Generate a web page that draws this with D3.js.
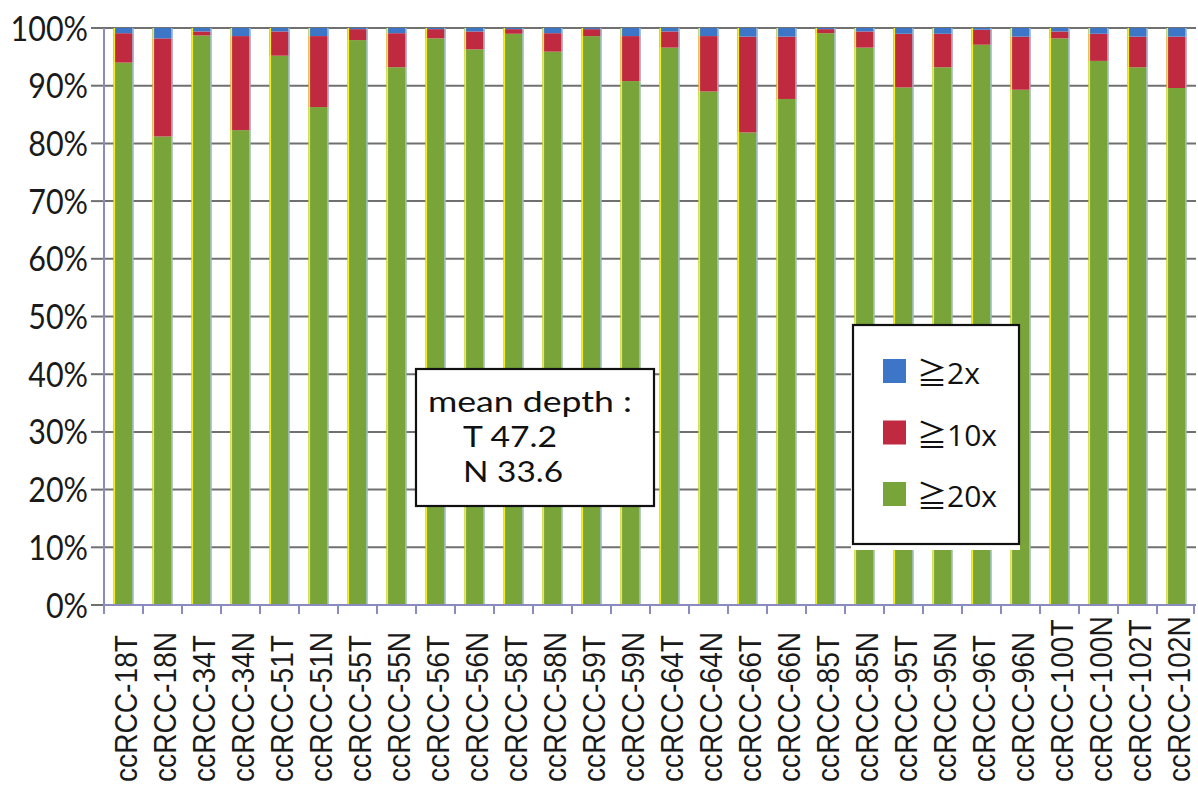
<!DOCTYPE html>
<html>
<head>
<meta charset="utf-8">
<script src="https://cdn.jsdelivr.net/npm/d3@7"></script>
<style>
  html, body { margin: 0; padding: 0; background: #fff; }
  svg { display: block; }
</style>
</head>
<body>
<svg id="chart" width="1198" height="787"></svg>
<script>
// Sequencing coverage per sample: share of target bases reaching each depth.
const samples = [
  "ccRCC-18T", "ccRCC-18N", "ccRCC-34T", "ccRCC-34N", "ccRCC-51T", "ccRCC-51N",
  "ccRCC-55T", "ccRCC-55N", "ccRCC-56T", "ccRCC-56N", "ccRCC-58T", "ccRCC-58N",
  "ccRCC-59T", "ccRCC-59N", "ccRCC-64T", "ccRCC-64N", "ccRCC-66T", "ccRCC-66N",
  "ccRCC-85T", "ccRCC-85N", "ccRCC-95T", "ccRCC-95N", "ccRCC-96T", "ccRCC-96N",
  "ccRCC-100T", "ccRCC-100N", "ccRCC-102T", "ccRCC-102N"
];
// cumulative coverage (%) at >=2x, >=10x, >=20x
const cov2x = [
  100, 100, 100, 100, 100, 100, 100, 100, 100, 100, 100, 100, 100, 100,
  100, 100, 100, 100, 100, 100, 100, 100, 100, 100, 100, 100, 100, 100
];
const cov10x = [
  99.1, 98.2, 99.4, 98.6, 99.4, 98.6, 99.8, 99.1, 99.8, 99.4, 99.8, 99.1, 99.8, 98.6,
  99.4, 98.6, 98.5, 98.5, 99.8, 99.4, 99.0, 99.0, 99.7, 98.5, 99.4, 99.0, 98.5, 98.5
];
const cov20x = [
  94.0, 81.2, 98.7, 82.3, 95.2, 86.3, 97.9, 93.2, 98.2, 96.3, 99.0, 95.9, 98.6, 90.8,
  96.6, 89.0, 81.9, 87.7, 99.1, 96.6, 89.7, 93.2, 97.1, 89.3, 98.2, 94.3, 93.2, 89.6
];
const yTicks = [0, 10, 20, 30, 40, 50, 60, 70, 80, 90, 100];
const seriesKeys = ["ge20", "ge10", "ge2"];
const seriesLabels = { ge2: "≧2x", ge10: "≧10x", ge20: "≧20x" };
const seriesColors = { ge2: "#3d76c6", ge10: "#bf2a40", ge20: "#79a43a" };
const depthNote = ["mean depth :", "T 47.2", "N 33.6"];

// segment table: each stacked piece is the increment over the next-deeper level
const rows = samples.map((s, i) => ({
  sample: s,
  ge20: cov20x[i],
  ge10: cov10x[i] - cov20x[i],
  ge2: cov2x[i] - cov10x[i],
  total: cov2x[i]
}));

const svg = d3.select("#chart");
const plotL = 104, plotR = 1196, plotT = 28, plotB = 605;

const x = d3.scaleBand().domain(samples).range([plotL, plotR]).paddingInner(0.487).paddingOuter(0.2435);
const xb = d3.scaleBand().domain(samples).range([plotL, plotR]);
const y = d3.scaleLinear().domain([0, 100]).range([plotB, plotT]);

// horizontal gridlines
svg.append("g")
  .selectAll("line")
  .data(yTicks.filter(t => t > 0))
  .join("line")
  .attr("x1", plotL).attr("x2", plotR)
  .attr("y1", d => y(d)).attr("y2", d => y(d))
  .attr("stroke", "#707070").attr("stroke-width", 2);

// y-axis ticks and labels
const yAxis = svg.append("g");
yAxis.selectAll("line")
  .data(yTicks)
  .join("line")
  .attr("x1", 91).attr("x2", plotL)
  .attr("y1", d => y(d)).attr("y2", d => y(d))
  .attr("stroke", "#707070").attr("stroke-width", 2);
yAxis.selectAll("text")
  .data(yTicks)
  .join("text")
  .attr("transform", d => `translate(88,${y(d) + 12.5}) scale(0.87,1)`)
  .attr("text-anchor", "end")
  .attr("font-family", "Lato, 'Open Sans', sans-serif")
  .attr("font-size", 35)
  .attr("fill", "#1a1a1a")
  .text(d => d + "%");

// stacked bars
const stack = d3.stack().keys(seriesKeys)(rows);
svg.append("g")
  .selectAll("g")
  .data(stack)
  .join("g")
  .attr("fill", d => seriesColors[d.key])
  .selectAll("rect")
  .data(d => d)
  .join("rect")
  .attr("x", d => x(d.data.sample))
  .attr("width", x.bandwidth())
  .attr("y", d => y(d[1]))
  .attr("height", d => y(d[0]) - y(d[1]));

// thin fringe on each bar's sides
const edges = svg.append("g");
edges.selectAll("line.l")
  .data(rows)
  .join("line")
  .attr("class", "l")
  .attr("x1", d => x(d.sample) + 0.8).attr("x2", d => x(d.sample) + 0.8)
  .attr("y1", d => y(0)).attr("y2", d => y(d.total))
  .attr("stroke", "#f2ee20").attr("stroke-width", 1.6);
edges.selectAll("line.r")
  .data(rows)
  .join("line")
  .attr("class", "r")
  .attr("x1", d => x(d.sample) + x.bandwidth() - 0.6).attr("x2", d => x(d.sample) + x.bandwidth() - 0.6)
  .attr("y1", d => y(0)).attr("y2", d => y(d.total))
  .attr("stroke", "#a9c8e0").attr("stroke-width", 1.2);

// axes lines
svg.append("line")
  .attr("x1", plotL).attr("x2", plotL).attr("y1", plotT).attr("y2", plotB + 1)
  .attr("stroke", "#8a8cc0").attr("stroke-width", 2);
svg.append("line")
  .attr("x1", plotL).attr("x2", plotR).attr("y1", plotB).attr("y2", plotB)
  .attr("stroke", "#8a8cc0").attr("stroke-width", 2);
svg.append("g")
  .selectAll("line")
  .data(samples)
  .join("line")
  .attr("x1", d => xb(d)).attr("x2", d => xb(d))
  .attr("y1", plotB).attr("y2", plotB + 9)
  .attr("stroke", "#8a8cc0").attr("stroke-width", 2);
svg.append("line")
  .attr("x1", plotR - 2).attr("x2", plotR - 2).attr("y1", plotB).attr("y2", plotB + 9)
  .attr("stroke", "#8a8cc0").attr("stroke-width", 2);

// category labels, rotated
svg.append("g")
  .selectAll("text")
  .data(samples)
  .join("text")
  .attr("transform", d => `translate(${xb(d) + xb.bandwidth() / 2 + 13.5},782) rotate(-90) scale(0.88,1)`)
  .attr("text-anchor", "start")
  .attr("font-family", "'Liberation Sans', Arial, sans-serif")
  .attr("font-size", 32)
  .attr("fill", "#1a1a1a")
  .text(d => d);

// note box
const note = svg.append("g");
note.append("rect")
  .attr("x", 416).attr("y", 369).attr("width", 238).attr("height", 137)
  .attr("fill", "#fff").attr("stroke", "#111").attr("stroke-width", 2.2);
const noteWidths = [204, 94, 100];
note.selectAll("text")
  .data(depthNote)
  .join("text")
  .attr("x", (d, i) => i === 0 ? 428 : 463)
  .attr("y", (d, i) => 412 + i * 35)
  .attr("textLength", (d, i) => noteWidths[i])
  .attr("lengthAdjust", "spacingAndGlyphs")
  .attr("font-family", "Lato, 'Open Sans', sans-serif")
  .attr("font-size", 29)
  .attr("fill", "#111")
  .text(d => d);

// legend
const legend = svg.append("g");
legend.append("rect")
  .attr("x", 851).attr("y", 324).attr("width", 169).attr("height", 226)
  .attr("fill", "#fff");
legend.append("rect")
  .attr("x", 853).attr("y", 325).attr("width", 166).attr("height", 219)
  .attr("fill", "#fff").attr("stroke", "#111").attr("stroke-width", 2.2);
const legendOrder = ["ge2", "ge10", "ge20"];
const li = legend.selectAll("g.item")
  .data(legendOrder)
  .join("g")
  .attr("class", "item")
  .attr("transform", (d, i) => `translate(883,${359 + i * 61.5})`);
li.append("rect")
  .attr("width", 23).attr("height", 24)
  .attr("fill", d => seriesColors[d]);
li.append("text")
  .attr("x", 34).attr("y", 25)
  .attr("font-family", "'Open Sans', 'Noto Sans CJK JP', sans-serif")
  .attr("font-size", 30)
  .attr("fill", "#111")
  .text(d => seriesLabels[d]);
</script>
</body>
</html>
